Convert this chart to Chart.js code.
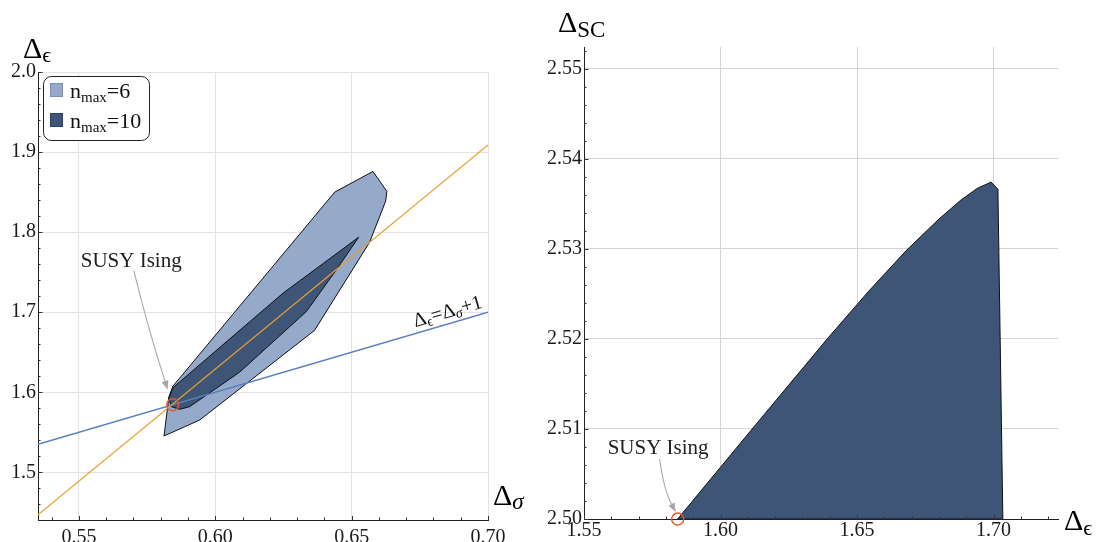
<!DOCTYPE html>
<html><head><meta charset="utf-8">
<script src="https://cdn.jsdelivr.net/npm/chart.js@4.4.1/dist/chart.umd.min.js"></script>
<style>
html,body{margin:0;padding:0;background:#fff;width:1096px;height:542px;overflow:hidden}
#cl{position:absolute;left:0;top:0}
#cr{position:absolute;left:540px;top:0}
</style></head><body>
<canvas id="cl" width="540" height="542"></canvas>
<canvas id="cr" width="556" height="542"></canvas>
<script>
// ---------- Left panel (Δσ, Δϵ) ----------
const leftXTicks = [0.55, 0.60, 0.65, 0.70];
const leftXLabels = ['0.55', '0.60', '0.65', '0.70'];
const leftYTicks = [1.5, 1.6, 1.7, 1.8, 1.9, 2.0];
const leftYLabels = ['1.5', '1.6', '1.7', '1.8', '1.9', '2.0'];
const nmax6X = [0.5812, 0.5830, 0.5845, 0.5876, 0.6438, 0.6578, 0.6629, 0.6625, 0.6566, 0.6364, 0.5943, 0.5812];
const nmax6Y = [1.5454, 1.5945, 1.6079, 1.6204, 1.8500, 1.8758, 1.8511, 1.8390, 1.7874, 1.6773, 1.5654, 1.5454];
const nmax10X = [0.5845, 0.6248, 0.6526, 0.6444, 0.6334, 0.6089, 0.5906, 0.5869, 0.5839, 0.5830, 0.5845];
const nmax10Y = [1.6058, 1.7237, 1.7937, 1.7529, 1.7008, 1.6250, 1.5820, 1.5787, 1.5820, 1.5925, 1.6058];
const susyLineX = [0.535, 0.70];          // Δϵ = Δσ + 1
const susyLineY = [1.535, 1.70];
const orangeLineX = [0.535, 0.70];
const orangeLineY = [1.447, 1.909];
const susyLeftX = [0.5844];
const susyLeftY = [1.5845];

// ---------- Right panel (Δϵ, ΔSC) ----------
const rightXTicks = [1.55, 1.60, 1.65, 1.70];
const rightXLabels = ['1.55', '1.60', '1.65', '1.70'];
const rightYTicks = [2.50, 2.51, 2.52, 2.53, 2.54, 2.55];
const rightYLabels = ['2.50', '2.51', '2.52', '2.53', '2.54', '2.55'];
const regionX = [1.5843, 1.6116, 1.6391, 1.6540, 1.6680, 1.6800, 1.6880, 1.6940, 1.6991, 1.7016, 1.7034, 1.5843];
const regionY = [2.5000, 2.5100, 2.5200, 2.5252, 2.5298, 2.5333, 2.5354, 2.5367, 2.5374, 2.5366, 2.5000, 2.5000];
const susyRightX = [1.5843];
const susyRightY = [2.5000];

const SERIF = "'Liberation Serif','DejaVu Serif',serif";
const pts = (xs, ys) => xs.map((x, i) => ({x: x, y: ys[i]}));

function polyDS(xs, ys, fillCol) {
  return {data: pts(xs, ys), fill: 'shape', backgroundColor: fillCol, borderColor: '#111',
          borderWidth: 1, pointRadius: 0, tension: 0, borderJoinStyle: 'round'};
}
function lineDS(xs, ys, col, w) {
  return {data: pts(xs, ys), fill: false, borderColor: col, borderWidth: w, pointRadius: 0, tension: 0};
}
function circDS(xs, ys) {
  return {data: pts(xs, ys), showLine: false, pointRadius: 6, pointHoverRadius: 6,
          pointBorderColor: '#e8552d', pointBackgroundColor: 'rgba(0,0,0,0)', pointBorderWidth: 1.4, clip: false};
}

function axisX(min, max, ticks, labels, h, pad, gridCol) {
  return {type: 'linear', min: min, max: max,
    afterBuildTicks: ax => { ax.ticks = ticks.map(v => ({value: v})); },
    afterFit: ax => { ax.height = h; },
    ticks: {autoSkip: false, maxRotation: 0, padding: pad, color: '#1a1a1a',
            font: {family: SERIF, size: 20}, callback: (v, i) => labels[i]},
    grid: {color: gridCol, drawTicks: false, lineWidth: 1},
    border: {display: true, color: '#222', width: 1}};
}
function axisY(min, max, ticks, labels, w, gridCol) {
  return {type: 'linear', min: min, max: max,
    afterBuildTicks: ax => { ax.ticks = ticks.map(v => ({value: v})); },
    afterFit: ax => { ax.width = w; },
    ticks: {autoSkip: false, padding: 2, color: '#1a1a1a',
            font: {family: SERIF, size: 20}, callback: (v, i) => labels[i]},
    grid: {color: gridCol, drawTicks: false, lineWidth: 1},
    border: {display: true, color: '#222', width: 1}};
}

function minorTicks(ctx, sx, sy, xr, yr) {
  // xr/yr: [startIndex, endIndex, step, majorEvery, lenMajor, lenMinor]
  ctx.save();
  ctx.strokeStyle = '#333'; ctx.lineWidth = 1;
  ctx.beginPath();
  for (let k = yr[0]; k <= yr[1]; k++) {
    const v = k * yr[2];
    if (v < sy.min - 1e-9 || v > sy.max + 1e-9) continue;
    const py = Math.round(sy.getPixelForValue(v)) + 0.5;
    const len = (k % yr[3] === 0) ? yr[4] : yr[5];
    ctx.moveTo(sx.left, py); ctx.lineTo(sx.left + len, py);
  }
  for (let k = xr[0]; k <= xr[1]; k++) {
    const v = k * xr[2];
    if (v < sx.min - 1e-9 || v > sx.max + 1e-9) continue;
    const px = Math.round(sx.getPixelForValue(v)) + 0.5;
    const len = (k % xr[3] === 0) ? xr[4] : xr[5];
    ctx.moveTo(px, sy.bottom); ctx.lineTo(px, sy.bottom - len);
  }
  ctx.stroke();
  ctx.restore();
}

function arrow(ctx, x0, y0, cx, cy, x1, y1) {
  ctx.save();
  ctx.strokeStyle = '#a8a8a8'; ctx.fillStyle = '#a8a8a8'; ctx.lineWidth = 1.1;
  const a = Math.atan2(y1 - cy, x1 - cx);
  const hl = 9, hw = 3.5;
  const bx = x1 - hl * Math.cos(a), by = y1 - hl * Math.sin(a);
  ctx.beginPath(); ctx.moveTo(x0, y0); ctx.quadraticCurveTo(cx, cy, bx, by); ctx.stroke();
  ctx.beginPath();
  ctx.moveTo(x1, y1);
  ctx.lineTo(bx + hw * Math.sin(a), by - hw * Math.cos(a));
  ctx.lineTo(bx - hw * Math.sin(a), by + hw * Math.cos(a));
  ctx.closePath(); ctx.fill();
  ctx.restore();
}

// draw a sequence of [text, fontSize, dy, italic]
function runs(ctx, x, y, parts, color) {
  ctx.save();
  ctx.fillStyle = color || '#111';
  ctx.textBaseline = 'alphabetic'; ctx.textAlign = 'left';
  let cx = x;
  for (const p of parts) {
    ctx.font = (p[3] ? 'italic ' : '') + p[1] + 'px ' + SERIF;
    ctx.fillText(p[0], cx, y + p[2]);
    cx += ctx.measureText(p[0]).width;
  }
  ctx.restore();
  return cx - x;
}
function runsWidth(ctx, parts) {
  let w = 0;
  ctx.save();
  for (const p of parts) { ctx.font = (p[3] ? 'italic ' : '') + p[1] + 'px ' + SERIF; w += ctx.measureText(p[0]).width; }
  ctx.restore();
  return w;
}

const overlayLeft = {
  id: 'overlayLeft',
  afterDatasetsDraw(chart) {
    const ctx = chart.ctx, sx = chart.scales.x, sy = chart.scales.y;
    minorTicks(ctx, sx, sy, [53, 70, 0.01, 5, 4, 2.5], [72, 100, 0.02, 5, 4.5, 2.5]);

    // legend
    ctx.save();
    ctx.beginPath();
    ctx.roundRect(43.5, 76.5, 106, 64, 8);
    ctx.fillStyle = '#fff'; ctx.fill();
    ctx.strokeStyle = '#222'; ctx.lineWidth = 1; ctx.stroke();
    ctx.fillStyle = '#95aacb'; ctx.fillRect(50, 83, 13, 14);
    ctx.strokeStyle = '#7d90b0'; ctx.strokeRect(50.5, 83.5, 12, 13);
    ctx.fillStyle = '#3f5577'; ctx.fillRect(50, 113, 13, 14);
    ctx.strokeStyle = '#2d3f5c'; ctx.strokeRect(50.5, 113.5, 12, 13);
    ctx.restore();
    runs(ctx, 70, 97.5, [['n', 22, 0], ['max', 15, 4.5], ['=6', 22, 0]], '#111');
    runs(ctx, 70, 127.5, [['n', 22, 0], ['max', 15, 4.5], ['=10', 22, 0]], '#111');

    // axis titles
    runs(ctx, 23, 58, [['\u0394', 30, 0], ['\u03F5', 22, 4]], '#000');
    runs(ctx, 493, 505, [['\u0394', 30, 0], ['\u03C3', 23, 4, true]], '#000');

    // SUSY Ising annotation
    const px = sx.getPixelForValue(susyLeftX[0]), py = sy.getPixelForValue(susyLeftY[0]);
    runs(ctx, px - 92, py - 138, [['SUSY Ising', 21, 0]], '#222');
    arrow(ctx, px - 39, py - 134, px - 24, py - 74, px - 5, py - 15);

    // rotated Δϵ=Δσ+1 label along the blue line
    const x0 = sx.getPixelForValue(susyLineX[0]), y0 = sy.getPixelForValue(susyLineY[0]);
    const x1 = sx.getPixelForValue(susyLineX[1]), y1 = sy.getPixelForValue(susyLineY[1]);
    const ang = Math.atan2(y1 - y0, x1 - x0);
    const parts = [['\u0394', 20, 0], ['\u03F5', 14, 3], ['=\u0394', 20, 0], ['\u03C3', 14, 3, true], ['+1', 20, 0]];
    const w = runsWidth(ctx, parts);
    const lx = x1 - 37, ly = y0 + (y1 - y0) * (lx - x0) / (x1 - x0);
    ctx.save();
    ctx.translate(lx, ly);
    ctx.rotate(ang);
    runs(ctx, -w / 2, -6, parts, '#111');
    ctx.restore();
  }
};

const overlayRight = {
  id: 'overlayRight',
  afterDatasetsDraw(chart) {
    const ctx = chart.ctx, sx = chart.scales.x, sy = chart.scales.y;
    minorTicks(ctx, sx, sy, [155, 172, 0.01, 5, 4, 2.5], [1250, 1277, 0.002, 5, 4.5, 2.5]);
    runs(ctx, 18, 32, [['\u0394', 30, 0], ['SC', 23, 5]], '#000');
    runs(ctx, 524, 530, [['\u0394', 30, 0], ['\u03F5', 22, 5]], '#000');
    const px = sx.getPixelForValue(susyRightX[0]), py = sy.getPixelForValue(susyRightY[0]);
    runs(ctx, px - 70, py - 65, [['SUSY Ising', 21, 0]], '#222');
    arrow(ctx, px - 18, py - 60, px - 14, py - 30, px - 2, py - 7);
  }
};

new Chart(document.getElementById('cl'), {
  type: 'line',
  data: {datasets: [
    circDS(susyLeftX, susyLeftY),
    lineDS(orangeLineX, orangeLineY, '#e9a032', 1.2),
    lineDS(susyLineX, susyLineY, '#5b80c0', 1.4),
    polyDS(nmax10X, nmax10Y, '#3f5577'),
    polyDS(nmax6X, nmax6Y, '#95aacb')
  ]},
  options: {
    responsive: false, animation: false, events: [],
    layout: {padding: {left: 0, top: 72, right: 52, bottom: 0}},
    plugins: {legend: {display: false}, tooltip: {enabled: false}},
    scales: {
      x: axisX(0.535, 0.70, leftXTicks, leftXLabels, 22, 6, '#e2e2e2'),
      y: axisY(1.4405, 2.0, leftYTicks, leftYLabels, 38, '#e2e2e2')
    }
  },
  plugins: [overlayLeft]
});

new Chart(document.getElementById('cr'), {
  type: 'line',
  data: {datasets: [
    circDS(susyRightX, susyRightY),
    polyDS(regionX, regionY, '#3f5577')
  ]},
  options: {
    responsive: false, animation: false, events: [],
    layout: {padding: {left: 0, top: 47, right: 38, bottom: 0}},
    plugins: {legend: {display: false}, tooltip: {enabled: false}},
    scales: {
      x: axisX(1.55, 1.7236, rightXTicks, rightXLabels, 23, 0, '#d4d4d4'),
      y: axisY(2.50, 2.5524, rightYTicks, rightYLabels, 44, '#d4d4d4')
    }
  },
  plugins: [overlayRight]
});
</script>
</body></html>
